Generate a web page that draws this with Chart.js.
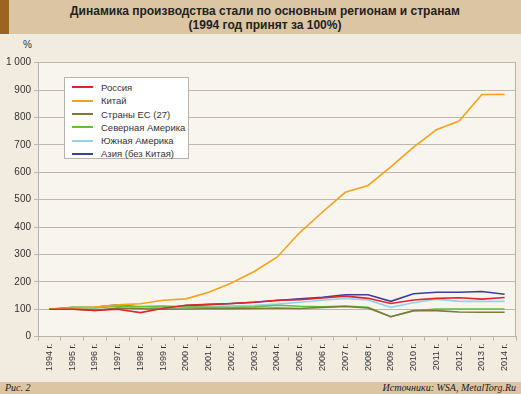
<!DOCTYPE html>
<html>
<head>
<meta charset="utf-8">
<script src="https://cdn.jsdelivr.net/npm/chart.js@4/dist/chart.umd.min.js"></script>
<style>
  html, body { margin: 0; padding: 0; }
  body { width: 521px; height: 394px; background: #f2ebdf; position: relative; overflow: hidden;
         font-family: "Liberation Sans", Arial, sans-serif; }
  #title { position: absolute; left: 0; top: 0; width: 521px; height: 34px; background: #dcc5a3;
           border-left: 9px solid #9c6421; box-sizing: border-box; text-align: center;
           font-weight: bold; font-size: 12px; line-height: 14px; color: #222; padding-top: 4px; }
  #footer { position: absolute; left: 0; top: 382px; width: 521px; height: 12px; background: #dcc5a3;
            font-family: "Liberation Serif", serif; font-style: italic; font-size: 10px; line-height: 12px; color: #222; }
  #footer .l { position: absolute; left: 5px; }
  #footer .r { position: absolute; right: 5px; }
  #pct { position: absolute; left: 23px; top: 39px; font-size: 10px; color: #333; }
  #wrap { position: absolute; left: 0; top: 35px; width: 521px; height: 347px; }
  #legend { position: absolute; left: 64px; top: 77px; width: 125px; height: 82px; background: #fff;
            border: 1px solid #b9b3aa; box-sizing: border-box; padding-top: 3px; }
  #legend div { height: 13.3px; font-size: 9.5px; line-height: 13px; color: #333; white-space: nowrap; }
  #legend span { display: inline-block; width: 21px; height: 2px; margin: 0 8px 0 7px; vertical-align: middle; position: relative; top: -1px; }
</style>
</head>
<body>
<div id="title">Динамика производства стали по основным регионам и странам<br>(1994 год принят за 100%)</div>
<div id="pct">%</div>
<div id="wrap"><canvas id="chart" width="521" height="347"></canvas></div>
<div id="legend"></div>
<div id="footer"><span class="l">Рис. 2</span><span class="r">Источники: WSA, MetalTorg.Ru</span></div>
<script>
// данные (1994 = 100%)
const years = ['1994','1995','1996','1997','1998','1999','2000','2001','2002','2003','2004',
               '2005','2006','2007','2008','2009','2010','2011','2012','2013','2014'];
const yearLabels = years.map(y => y + ' г.');

const russia   = [100,100, 96,100, 88,104,115,118,121,126,133,135,141,148,140,121,134,140,142,137,143];
const china    = [100,105,108,116,120,133,138,162,196,238,290,380,455,527,552,620,692,755,787,884,884];
const eu27     = [100,101, 96,105,102,100,101,102,102,103,105,103,107,110,105, 73, 95, 95, 90, 89, 89];
const nAmerica = [100,107,106,112,110,112,109,107,107,109,115,111,109,112,107, 73, 95,101,101,101,101];
const sAmerica = [100,103,104,112,107,102,107,110,113,115,119,126,133,140,134,107,124,137,129,129,129];
const asia     = [100,106,107,116,107,103,114,117,121,126,132,138,144,153,153,129,157,162,162,165,155];

const seriesNames = ['Россия', 'Китай', 'Страны ЕС (27)', 'Северная Америка', 'Южная Америка', 'Азия (без Китая)'];
const seriesData = [russia, china, eu27, nAmerica, sAmerica, asia];
const seriesColors = ['#e3242b', '#f7a21b', '#7e7a3c', '#62c03b', '#92d4ea', '#3d3f9c'];

// легенда в HTML
const legendEl = document.getElementById('legend');
seriesNames.forEach((name, i) => {
    const row = document.createElement('div');
    row.innerHTML = '<span style="background:' + seriesColors[i] + '"></span>' + name;
    legendEl.appendChild(row);
});

// фон области графика + рамка
const plotBg = {
    id: 'plotBg',
    beforeDraw(chart) {
        const { ctx, chartArea: a } = chart;
        ctx.save();
        ctx.fillStyle = '#f8f5ef';
        ctx.fillRect(a.left, a.top, a.right - a.left, a.bottom - a.top);
        ctx.restore();
    },
    afterDatasetsDraw(chart) {
        const { ctx, chartArea: a } = chart;
        ctx.save();
        ctx.strokeStyle = '#b9b3aa';
        ctx.lineWidth = 1;
        ctx.beginPath();
        ctx.moveTo(a.right - 0.5, a.top);
        ctx.lineTo(a.right - 0.5, a.bottom);
        ctx.stroke();
        ctx.restore();
    }
};

new Chart(document.getElementById('chart').getContext('2d'), {
    type: 'line',
    data: {
        labels: yearLabels,
        datasets: seriesData.map((d, i) => ({
            label: seriesNames[i],
            data: d,
            borderColor: seriesColors[i],
            backgroundColor: seriesColors[i],
            borderWidth: 1.6,
            pointRadius: 0,
            tension: 0,
            fill: false
        }))
    },
    options: {
        responsive: false,
        animation: false,
        layout: { padding: { top: 27.7, right: 5, left: 0, bottom: 0 } },
        plugins: { legend: { display: false }, tooltip: { enabled: false } },
        scales: {
            x: {
                offset: true,
                grid: { offset: true, drawOnChartArea: false, tickLength: 4, color: '#b9b3aa' },
                border: { color: '#b9b3aa' },
                ticks: { minRotation: 90, maxRotation: 90, autoSkip: false, padding: 3,
                         color: '#333', font: { family: 'Liberation Sans', size: 9 } },
                afterFit(scale) { scale.height = 45.3; }
            },
            y: {
                min: 0, max: 1000,
                ticks: { stepSize: 100, padding: 3, color: '#333', font: { family: 'Liberation Sans', size: 10 },
                         callback: v => v >= 1000 ? '1 000' : String(v) },
                grid: { color: '#bdb7ae', tickLength: 4 },
                border: { color: '#b9b3aa' },
                afterFit(scale) { scale.width = 38; }
            }
        }
    },
    plugins: [plotBg]
});
</script>
</body>
</html>
